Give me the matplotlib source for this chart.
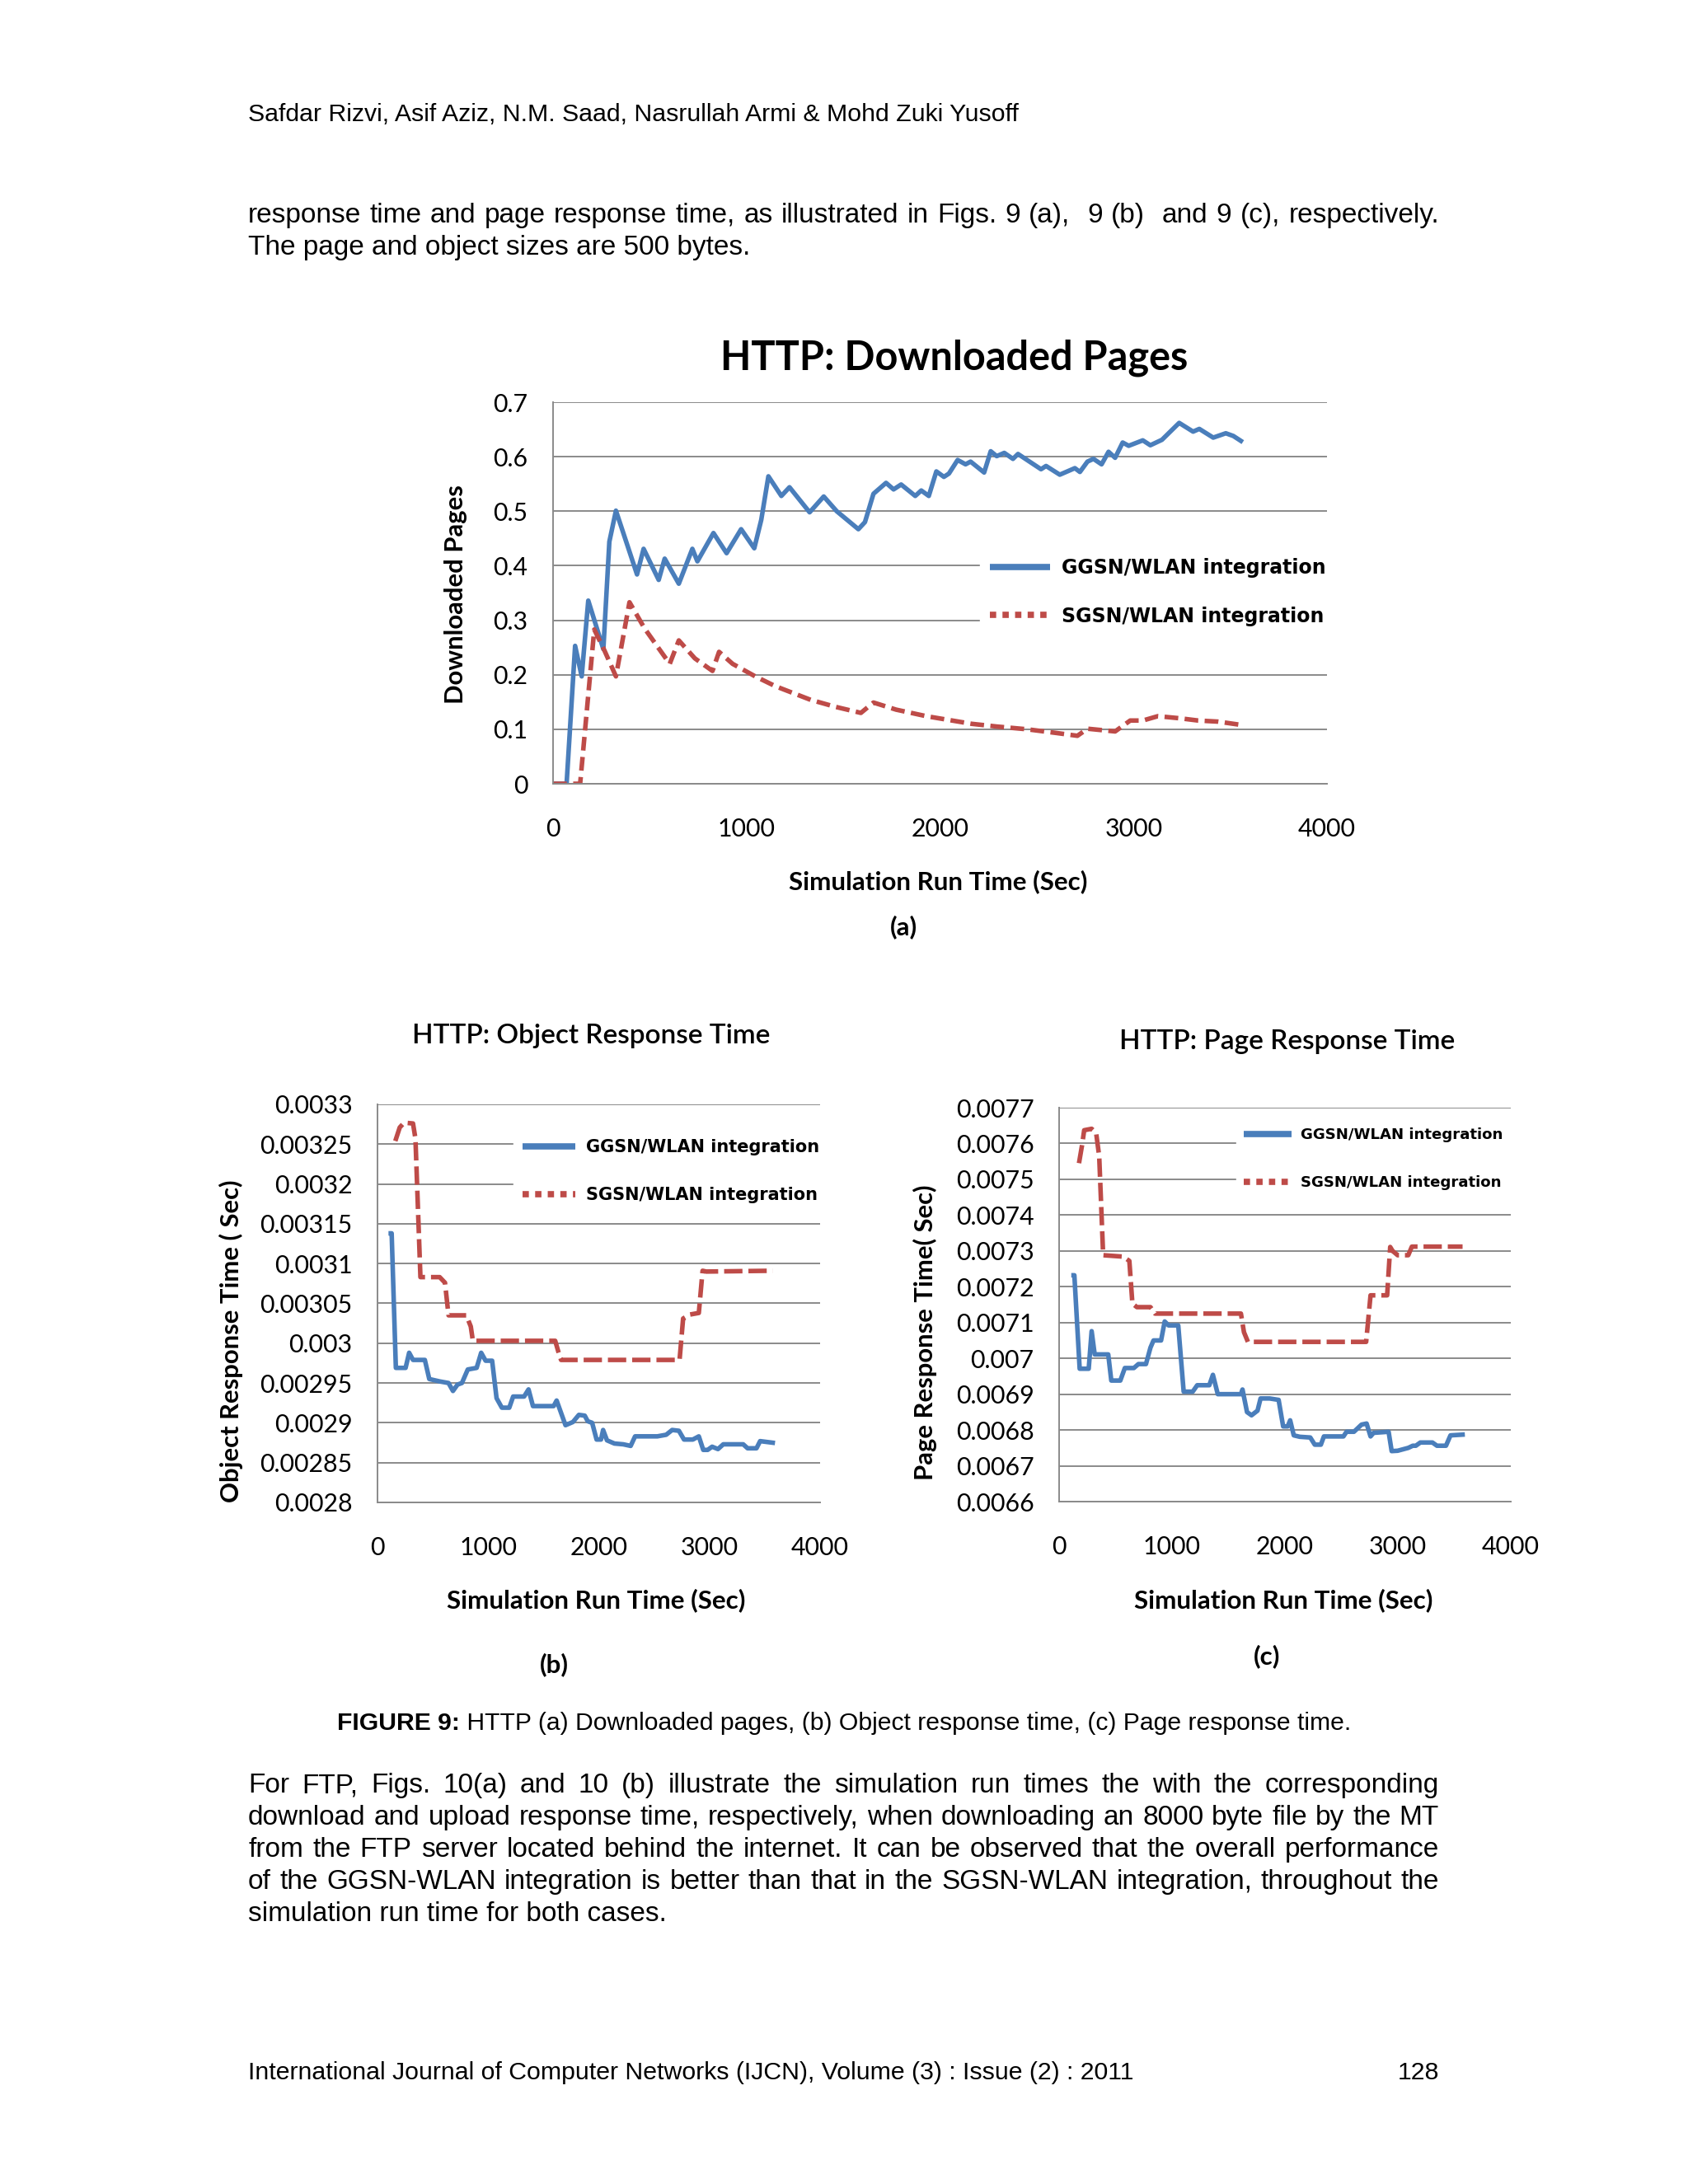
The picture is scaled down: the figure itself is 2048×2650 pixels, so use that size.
import matplotlib
matplotlib.use("Agg")
import matplotlib.pyplot as plt
from matplotlib.lines import Line2D

# ---- data ----
# (a) HTTP: Downloaded Pages
a_ggsn_t = [0, 70, 114, 148, 182, 260, 291, 325, 434, 468, 546, 577, 650, 720, 746, 829, 897, 972, 1040, 1076,
            1113, 1180, 1222, 1326, 1399, 1466, 1578, 1612, 1656, 1721, 1760, 1799, 1872, 1903, 1942, 1981, 2020,
            2046, 2091, 2132, 2158, 2228, 2262, 2293, 2332, 2377, 2403, 2522, 2548, 2619, 2697, 2723, 2762, 2793,
            2835, 2871, 2905, 2944, 2975, 3048, 3087, 3147, 3236, 3308, 3340, 3412, 3477, 3516, 3555]
a_ggsn_v = [0, 0, 0.253, 0.197, 0.336, 0.247, 0.444, 0.501, 0.384, 0.431, 0.374, 0.413, 0.367, 0.431, 0.408,
            0.460, 0.423, 0.467, 0.432, 0.484, 0.564, 0.528, 0.544, 0.498, 0.527, 0.500, 0.467, 0.480, 0.532,
            0.552, 0.540, 0.549, 0.528, 0.538, 0.528, 0.573, 0.563, 0.569, 0.594, 0.586, 0.591, 0.571, 0.610,
            0.601, 0.607, 0.596, 0.605, 0.577, 0.583, 0.567, 0.579, 0.572, 0.591, 0.596, 0.586, 0.609, 0.598,
            0.626, 0.620, 0.630, 0.621, 0.631, 0.662, 0.646, 0.651, 0.635, 0.643, 0.638, 0.629]
a_sgsn_t = [0, 140, 213, 265, 325, 395, 473, 603, 650, 733, 824, 858, 928, 1045, 1149, 1331, 1461, 1591, 1656,
            1773, 1929, 2163, 2293, 2449, 2605, 2710, 2762, 2905, 2983, 3048, 3126, 3243, 3334, 3438, 3555]
a_sgsn_v = [0, 0, 0.283, 0.245, 0.197, 0.333, 0.285, 0.220, 0.263, 0.230, 0.207, 0.242, 0.220, 0.197, 0.179,
            0.154, 0.141, 0.130, 0.149, 0.136, 0.124, 0.110, 0.105, 0.100, 0.093, 0.088, 0.101, 0.096, 0.116,
            0.116, 0.124, 0.120, 0.116, 0.114, 0.108]

# (b) HTTP: Object Response Time
b_ggsn_t = [120, 128, 166, 254, 286, 321, 428, 468, 562, 642, 682, 723, 763, 816, 896, 937, 977, 1036, 1076,
            1124, 1191, 1226, 1325, 1365, 1405, 1592, 1619, 1699, 1766, 1820, 1873, 1900, 1940, 1980, 2020,
            2039, 2074, 2141, 2221, 2288, 2328, 2529, 2609, 2663, 2724, 2770, 2850, 2904, 2944, 2984, 3024,
            3077, 3125, 3171, 3305, 3345, 3425, 3458, 3572]
b_ggsn_v = [0.003138, 0.003138, 0.002969, 0.002969, 0.002988, 0.002979, 0.002979, 0.002955, 0.002952,
            0.002950, 0.002940, 0.002948, 0.002950, 0.002967, 0.002969, 0.002988, 0.002978, 0.002978,
            0.002931, 0.002919, 0.002919, 0.002933, 0.002933, 0.002942, 0.002921, 0.002921, 0.002928,
            0.002897, 0.002901, 0.002910, 0.002909, 0.002902, 0.002900, 0.002879, 0.002879, 0.002891,
            0.002878, 0.002874, 0.002873, 0.002871, 0.002883, 0.002883, 0.002885, 0.002891, 0.002890,
            0.002879, 0.002879, 0.002883, 0.002866, 0.002866, 0.002870, 0.002867, 0.002873, 0.002873,
            0.002873, 0.002868, 0.002868, 0.002877, 0.002875]
b_sgsn_t = [161, 201, 241, 321, 343, 388, 482, 562, 610, 642, 803, 843, 862, 1606, 1633, 1659, 2730, 2762,
            2824, 2904, 2938, 2971, 3572]
b_sgsn_v = [0.003254, 0.003271, 0.003277, 0.003276, 0.003257, 0.003083, 0.003083, 0.003083, 0.003076,
            0.003035, 0.003035, 0.003021, 0.003003, 0.003003, 0.002990, 0.002979, 0.002979, 0.003031,
            0.003036, 0.003038, 0.003091, 0.003090, 0.003091]

# (c) HTTP: Page Response Time
c_ggsn_t = [128, 135, 182, 262, 288, 315, 435, 462, 542, 582, 662, 702, 769, 809, 836, 903, 935, 969, 1055,
            1103, 1183, 1223, 1330, 1362, 1405, 1610, 1624, 1664, 1704, 1757, 1784, 1864, 1944, 1984, 2024,
            2046, 2078, 2131, 2224, 2264, 2318, 2345, 2411, 2518, 2545, 2611, 2678, 2723, 2758, 2785, 2918,
            2945, 2998, 3092, 3132, 3159, 3199, 3306, 3346, 3426, 3466, 3573]
c_ggsn_v = [0.007232, 0.007232, 0.006971, 0.006971, 0.007076, 0.007011, 0.007011, 0.006938, 0.006938,
            0.006973, 0.006973, 0.006984, 0.006984, 0.007030, 0.007050, 0.007050, 0.007103, 0.007092,
            0.007092, 0.006907, 0.006907, 0.006925, 0.006925, 0.006954, 0.006900, 0.006900, 0.006913,
            0.006850, 0.006841, 0.006854, 0.006888, 0.006888, 0.006884, 0.006810, 0.006810, 0.006827,
            0.006785, 0.006781, 0.006779, 0.006759, 0.006759, 0.006782, 0.006782, 0.006782, 0.006795,
            0.006795, 0.006815, 0.006818, 0.006782, 0.006792, 0.006795, 0.006741, 0.006742, 0.006750,
            0.006756, 0.006756, 0.006765, 0.006765, 0.006756, 0.006756, 0.006785, 0.006787]
c_sgsn_t = [176, 203, 222, 288, 328, 355, 390, 569, 622, 649, 689, 809, 849, 1610, 1637, 1672, 2719, 2758,
            2905, 2932, 2953, 2998, 3092, 3124, 3573]
c_sgsn_v = [0.007545, 0.007595, 0.007637, 0.007641, 0.007629, 0.007564, 0.007288, 0.007284, 0.007272,
            0.007153, 0.007143, 0.007143, 0.007125, 0.007125, 0.007073, 0.007046, 0.007046, 0.007176,
            0.007176, 0.007311, 0.007300, 0.007288, 0.007288, 0.007312, 0.007312]

x_ticks = [0, 1000, 2000, 3000, 4000]
a_yticks = [0, 0.1, 0.2, 0.3, 0.4, 0.5, 0.6, 0.7]
a_ylabels = ["0", "0.1", "0.2", "0.3", "0.4", "0.5", "0.6", "0.7"]
b_yticks = [0.0028, 0.00285, 0.0029, 0.00295, 0.003, 0.00305, 0.0031, 0.00315, 0.0032, 0.00325, 0.0033]
b_ylabels = ["0.0028", "0.00285", "0.0029", "0.00295", "0.003", "0.00305", "0.0031", "0.00315",
             "0.0032", "0.00325", "0.0033"]
c_yticks = [0.0066, 0.0067, 0.0068, 0.0069, 0.007, 0.0071, 0.0072, 0.0073, 0.0074, 0.0075, 0.0076, 0.0077]
c_ylabels = ["0.0066", "0.0067", "0.0068", "0.0069", "0.007", "0.0071", "0.0072", "0.0073", "0.0074",
             "0.0075", "0.0076", "0.0077"]
series_names = ["GGSN/WLAN integration", "SGSN/WLAN integration"]

header = "Safdar Rizvi, Asif Aziz, N.M. Saad, Nasrullah Armi & Mohd Zuki Yusoff"
para1 = ["response time and page response time, as illustrated in Figs. 9 (a),  9 (b)  and 9 (c), respectively.",
         "The page and object sizes are 500 bytes."]
para2 = ["For FTP, Figs. 10(a) and 10 (b) illustrate the simulation run times the with the corresponding",
         "download and upload response time, respectively, when downloading an 8000 byte file by the MT",
         "from the FTP server located behind the internet. It can be observed that the overall performance",
         "of the GGSN-WLAN integration is better than that in the SGSN-WLAN integration, throughout the",
         "simulation run time for both cases."]
footer = "International Journal of Computer Networks (IJCN), Volume (3) : Issue (2) : 2011"
page_no = "128"

BLUE = "#4A7EBB"
RED = "#BE4B48"
GRID = "#8A8A8A"
W, H = 2048, 2650

plt.rcParams["font.family"] = ["Lato", "DejaVu Sans"]
fig = plt.figure(figsize=(W / 100, H / 100), dpi=100)
fig.patch.set_facecolor("white")


def px_axes(x0, y0, x1, y1):
    return fig.add_axes([x0 / W, 1 - y1 / H, (x1 - x0) / W, (y1 - y0) / H])


def style_axes(ax, yticks, ylabels, ylim, xpad, ypad):
    ax.set_xlim(0, 4000)
    ax.set_ylim(*ylim)
    ax.set_xticks(x_ticks)
    ax.set_xticklabels([str(t) for t in x_ticks])
    ax.set_yticks(yticks)
    ax.set_yticklabels(ylabels)
    ax.tick_params(length=0, labelsize=21.8, colors="black")
    ax.tick_params(axis="x", pad=xpad)
    ax.tick_params(axis="y", pad=ypad)
    ax.grid(axis="y", color=GRID, lw=1.4)
    ax.set_axisbelow(True)
    for s in ["top", "right"]:
        ax.spines[s].set_visible(False)
    for s in ["left", "bottom"]:
        ax.spines[s].set_color(GRID)
        ax.spines[s].set_linewidth(1.4)


def label_axes(ax, ylabel, ypos, xpos, tag, tagpos):
    ax.set_ylabel(ylabel, fontsize=22.3, fontweight="bold", va="center")
    ax.yaxis.set_label_coords(*ypos)
    ax.set_xlabel("Simulation Run Time (Sec)", fontsize=22.6, fontweight="bold", va="center")
    ax.xaxis.set_label_coords(*xpos)
    ax.text(tagpos[0], tagpos[1], tag, transform=ax.transAxes, fontsize=22.6, fontweight="bold",
            ha="center", va="center")


def add_legend(ax, anchor, fs, hlen, tpad, lspace):
    handles = [Line2D([], [], color=BLUE, lw=5.5, solid_capstyle="butt"),
               Line2D([], [], color=RED, lw=5.5, dashes=(1, 1), dash_capstyle="butt")]
    leg = ax.legend(handles, series_names, loc="upper left", bbox_to_anchor=anchor,
                    prop={"family": "DejaVu Sans", "weight": "bold", "size": fs},
                    handlelength=hlen, handletextpad=tpad, labelspacing=lspace,
                    borderpad=0.5, borderaxespad=0, frameon=True, fancybox=False)
    leg.get_frame().set_facecolor("white")
    leg.get_frame().set_edgecolor("white")
    leg.get_frame().set_alpha(1)
    return leg


# ---- (a) ----
axa = px_axes(671, 488, 1610, 951)
axa.plot(a_ggsn_t, a_ggsn_v, color=BLUE, lw=4)
axa.plot(a_sgsn_t, a_sgsn_v, color=RED, lw=4, dashes=(3.0, 1.4), dash_capstyle="butt")
style_axes(axa, a_yticks, a_ylabels, (0, 0.7), 29.5, 22)
axa.set_title("HTTP: Downloaded Pages", fontsize=35, fontweight="bold", y=1.117, va="center", pad=0)
axa.title.set_x(0.518)
label_axes(axa, "Downloaded Pages", (-0.1255, 0.497), (0.498, -0.257), "(a)", (0.453, -0.376))
add_legend(axa, (0.552, 0.617), 17, 3.1, 0.6, 1.46)

# ---- (b) ----
axb = px_axes(458, 1340, 995, 1823)
axb.plot(b_ggsn_t, b_ggsn_v, color=BLUE, lw=4)
axb.plot(b_sgsn_t, b_sgsn_v, color=RED, lw=4, dashes=(4, 1.3), dash_capstyle="butt")
style_axes(axb, b_yticks, b_ylabels, (0.0028, 0.0033), 29.5, 22)
axb.set_title("HTTP: Object Response Time", fontsize=24, fontweight="semibold", y=1.172, va="center", pad=0)
axb.title.set_x(0.482)
label_axes(axb, "Object Response Time ( Sec)", (-0.331, 0.406), (0.494, -0.246), "(b)", (0.400, -0.408))
add_legend(axb, (0.308, 0.935), 15, 3.1, 0.6, 1.83)

# ---- (c) ----
axc = px_axes(1285, 1344, 1833, 1822)
axc.plot(c_ggsn_t, c_ggsn_v, color=BLUE, lw=4)
axc.plot(c_sgsn_t, c_sgsn_v, color=RED, lw=4, dashes=(4, 1.3), dash_capstyle="butt")
style_axes(axc, c_yticks, c_ylabels, (0.0066, 0.0077), 29.5, 22)
axc.set_title("HTTP: Page Response Time", fontsize=24, fontweight="semibold", y=1.167, va="center", pad=0)
axc.title.set_x(0.505)
label_axes(axc, "Page Response Time( Sec)", (-0.297, 0.429), (0.496, -0.251), "(c)", (0.460, -0.393))
add_legend(axc, (0.392, 0.968), 13.1, 3.2, 0.6, 2.19)

# ---- page text ----
BODY = "Liberation Sans"
LEFT, RIGHT = 301, 1746
renderer = fig.canvas.get_renderer()


def put(x, y, s, size, **kw):
    return fig.text(x / W, 1 - y / H, s, fontsize=size, family=BODY, va="baseline", **kw)


def justified(lines, y0, dy, size):
    for i, line in enumerate(lines):
        y = y0 + i * dy
        if i == len(lines) - 1:
            put(LEFT, y, line, size)
            continue
        words = line.split(" ")
        texts = [put(0, y, w, size) for w in words]
        widths = [t.get_window_extent(renderer).width if w else 0 for t, w in zip(texts, words)]
        gap = (RIGHT - LEFT - sum(widths)) / (len(words) - 1)
        x = LEFT
        for t, w in zip(texts, widths):
            t.set_x(x / W)
            x += w + gap


put(LEFT, 147, header, 21.8)
justified(para1, 270, 39, 24)
cap1 = put(409, 2099, "FIGURE 9:", 21.7, fontweight="bold")
cw = cap1.get_window_extent(renderer).width
put(409 + cw, 2099, " HTTP (a) Downloaded pages, (b) Object response time, (c) Page response time.", 21.7)
justified(para2, 2175, 39, 24)
put(LEFT, 2523, footer, 21.8)
put(RIGHT, 2523, page_no, 21.8, ha="right")

fig.savefig("out.png", dpi=100, facecolor="white")
